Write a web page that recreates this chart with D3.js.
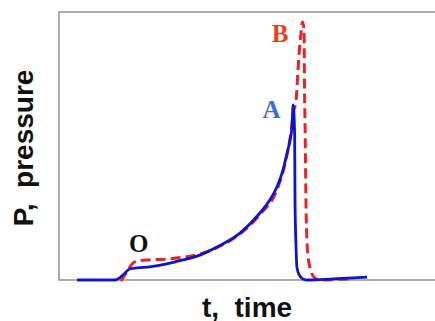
<!DOCTYPE html>
<html>
<head>
<meta charset="utf-8">
<script src="https://cdn.jsdelivr.net/npm/d3@7"></script>
<style>
  html, body { margin: 0; padding: 0; background: #fff; }
  svg { display: block; }
</style>
</head>
<body>
<svg id="chart" width="435" height="321"></svg>
<script>
// curve A (blue, solid) -- time in arbitrary units, pressure normalised
const timeA = [4.8, 14.9, 16.7, 18.8, 20.7, 24.1, 28.6, 32.9, 37.4, 41.9, 48.0, 53.3, 56.0, 57.8, 59.4, 60.5, 61.3, 61.8, 62.1, 62.5, 62.6, 62.9, 63.1, 63.7, 64.7, 66.0, 72.7, 81.7]
const presA = [0, 0, 0.015, 0.041, 0.045, 0.049, 0.06, 0.075, 0.093, 0.123, 0.175, 0.25, 0.30, 0.347, 0.41, 0.474, 0.522, 0.571, 0.653, 0.549, 0.299, 0.112, 0.049, 0.019, 0.004, 0, 0.004, 0.011]

// curve B (red, dashed)
const timeB = [16.4, 18.0, 19.4, 20.7, 24.1, 28.6, 33.4, 37.4, 41.9, 48.0, 53.3, 57.8, 59.9, 61.3, 62.3, 62.9, 63.4, 63.7, 64.2, 64.6, 65.0, 65.1, 65.3, 65.5, 65.9, 66.6, 67.9, 69.2, 77.7]
const presB = [-0.004, 0.03, 0.06, 0.071, 0.075, 0.078, 0.086, 0.097, 0.121, 0.172, 0.244, 0.336, 0.43, 0.53, 0.634, 0.672, 0.784, 0.847, 0.922, 0.963, 0.933, 0.746, 0.549, 0.299, 0.112, 0.045, 0.007, 0, 0.004]

// point labels
const pointLabels = ["O", "A", "B"]
const labelTime = [18.6, 54.0, 56.4]
const labelPres = [0.105, 0.605, 0.888]
const labelColors = ["#111", "#3d6ad6", "#e8401c"]

const axisTitles = ["t,  time", "P,  pressure"]

const svg = d3.select("#chart")
const margin = {left: 59, top: 12, right: -1, bottom: 41}
const W = +svg.attr("width"), H = +svg.attr("height")

const x = d3.scaleLinear().domain([0, 100]).range([margin.left, W - margin.right])
const y = d3.scaleLinear().domain([0, 1]).range([H - margin.bottom, margin.top])

// frame (right edge falls off the picture)
svg.append("rect")
  .attr("x", x(0)).attr("y", y(1))
  .attr("width", x(100) - x(0)).attr("height", y(0) - y(1))
  .attr("fill", "none")
  .attr("stroke", "#9a9a9a")
  .attr("stroke-width", 1.6)

const line = d3.line()
  .x(d => x(d[0]))
  .y(d => y(d[1]))
  .curve(d3.curveMonotoneX)

svg.append("path")
  .datum(d3.zip(timeB, presB))
  .attr("d", line)
  .attr("fill", "none")
  .attr("stroke", "#e82424")
  .attr("stroke-width", 3)
  .attr("stroke-dasharray", "10,5")

svg.append("path")
  .datum(d3.zip(timeA, presA))
  .attr("d", line)
  .attr("fill", "none")
  .attr("stroke", "#0c14d2")
  .attr("stroke-width", 2.8)

svg.selectAll("text.pt")
  .data(pointLabels)
  .join("text")
  .attr("class", "pt")
  .attr("x", (d, i) => x(labelTime[i]))
  .attr("y", (d, i) => y(labelPres[i]))
  .attr("fill", (d, i) => labelColors[i])
  .attr("font-family", "'Liberation Serif', 'Times New Roman', serif")
  .attr("font-weight", "bold")
  .attr("font-size", 25)
  .text(d => d)

// axis titles
svg.append("text")
  .attr("x", 247).attr("y", 317)
  .attr("text-anchor", "middle")
  .attr("font-family", "'Liberation Sans', Arial, sans-serif")
  .attr("font-weight", "bold")
  .attr("font-size", 28)
  .attr("fill", "#111")
  .style("white-space", "pre")
  .text(axisTitles[0])

svg.append("text")
  .attr("transform", "translate(33,148)rotate(-90)")
  .attr("text-anchor", "middle")
  .attr("font-family", "'Liberation Sans', Arial, sans-serif")
  .attr("font-weight", "bold")
  .attr("font-size", 28)
  .attr("fill", "#111")
  .style("white-space", "pre")
  .text(axisTitles[1])
</script>
</body>
</html>
